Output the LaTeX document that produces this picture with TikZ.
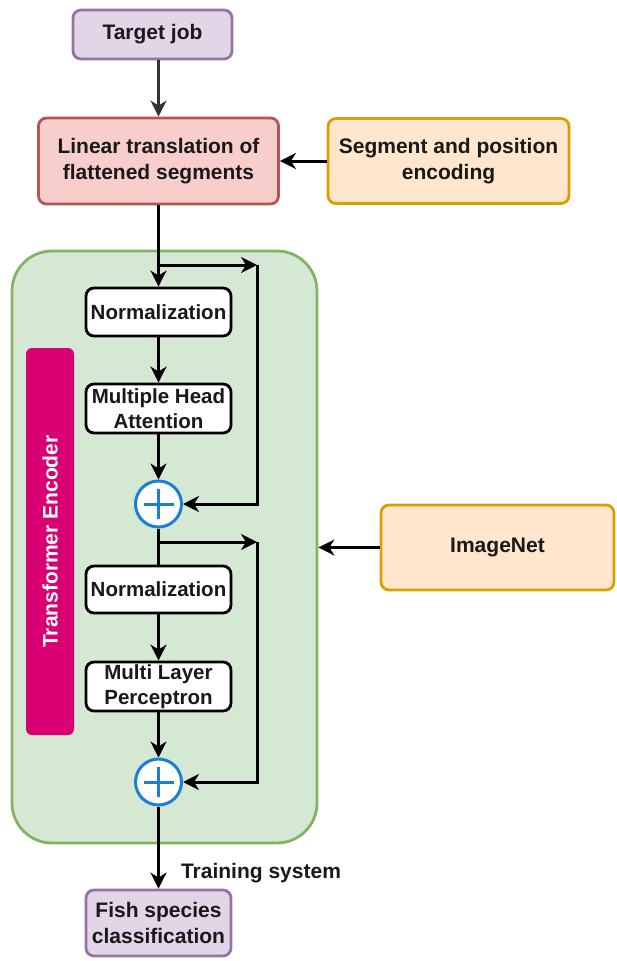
\documentclass[tikz,border=0pt]{standalone}
\usepackage{fontspec}
\setmainfont{Liberation Sans}
\usetikzlibrary{arrows.meta,calc}
\definecolor{purfill}{HTML}{E1D5E7}
\definecolor{purdraw}{HTML}{9673A6}
\definecolor{redfill}{HTML}{F8CECC}
\definecolor{reddraw}{HTML}{B85450}
\definecolor{orfill}{HTML}{FFE6CC}
\definecolor{ordraw}{HTML}{D7A000}
\definecolor{grfill}{HTML}{D5E8D4}
\definecolor{grdraw}{HTML}{82B366}
\definecolor{pinkfill}{HTML}{D80073}
\definecolor{plusblue}{HTML}{1C7FD6}
\begin{document}
\begin{tikzpicture}[x=1pt,y=-1pt,
  lbl/.style={font=\bfseries\fontsize{21}{26}\selectfont, text=black!90, align=center},
  box/.style={lbl, draw, rounded corners=8pt, line width=2.8pt, inner sep=0pt},
  purbox/.style={box, fill=purfill, draw=purdraw},
  inbox/.style={box, fill=white, draw=black, minimum width=145pt, font=\bfseries\fontsize{20.5}{25}\selectfont},
  plusnode/.style={circle, draw=plusblue, fill=white, line width=3pt, minimum size=46pt, inner sep=0pt,
    path picture={\draw[plusblue, line width=3pt]
      ($(path picture bounding box.center)+(-15,0)$) -- ($(path picture bounding box.center)+(15,0)$)
      ($(path picture bounding box.center)+(0,-15)$) -- ($(path picture bounding box.center)+(0,15)$);}},
  arr/.style={line width=3pt, -{Stealth[length=16pt,width=16pt,inset=5pt]}},
  ln/.style={line width=3pt}
]
\useasboundingbox (0,0) rectangle (616,961);

% container
\node[draw=grdraw, fill=grfill, line width=2.8pt, rounded corners=40pt, minimum width=305pt, minimum height=592pt, inner sep=0pt] (enc) at (164.5,547) {};
\node[fill=pinkfill, rounded corners=6pt, minimum width=48pt, minimum height=387pt, inner sep=0pt] (te) at (50,541.5) {};
\node[lbl, text=white, rotate=90] (telbl) at (te.center) {Transformer Encoder};

% top boxes
\node[purbox, minimum width=159pt, minimum height=49pt] (target) at (152.5,34.5) {Target job};
\node[box, fill=redfill, draw=reddraw, minimum width=240pt, minimum height=86pt] (lin) at (158.5,161) {Linear translation of\\flattened segments};
\node[box, fill=orfill, draw=ordraw, minimum width=241pt, minimum height=85pt] (seg) at (448.5,161) {Segment and position\\encoding};
\node[box, fill=orfill, draw=ordraw, minimum width=233pt, minimum height=85pt] (img) at (497.5,547.5) {ImageNet};

% inner boxes
\node[inbox, minimum height=48pt] (n1) at (158.5,312) {Normalization};
\node[inbox, minimum height=49pt] (mha) at (158.5,408.5) {Multiple Head\\Attention};
\node[plusnode] (p1) at (158.5,504) {};
\node[inbox, minimum height=47pt] (n2) at (158.5,589.5) {Normalization};
\node[inbox, minimum height=49pt] (mlp) at (158.5,686.5) {Multi Layer\\Perceptron};
\node[plusnode] (p2) at (158.5,782) {};

\node[purbox, minimum width=145pt, minimum height=66pt] (fish) at (158.5,923) {Fish species\\classification};
\node[lbl] (train) at (261,873) {Training system};

% connectors
\draw[arr, draw=black!80, fill=black!80] (target.south -| lin.north) -- (lin.north);
\draw[arr] (seg.west) -- (lin.east);
\draw[arr] (img.west) -- (enc.east |- img.west);

\coordinate (s1) at (158.5,265);
\coordinate (r1) at (257,265);
\coordinate (s2) at (158.5,542);
\coordinate (r2) at (257,542);

\draw[arr] (lin.south) -- (n1.north);
\draw[arr] (s1) -- (r1);
\draw[arr] (r1) |- (p1.east);
\draw[arr] (n1.south) -- (mha.north);
\draw[arr] (mha.south) -- (p1.north);
\draw[ln] (p1.south) -- (n2.north);
\draw[arr] (s2) -- (r2);
\draw[arr] (r2) |- (p2.east);
\draw[arr] (n2.south) -- (mlp.north);
\draw[arr] (mlp.south) -- (p2.north);
\draw[arr] (p2.south) -- (fish.north);
\end{tikzpicture}
\end{document}
